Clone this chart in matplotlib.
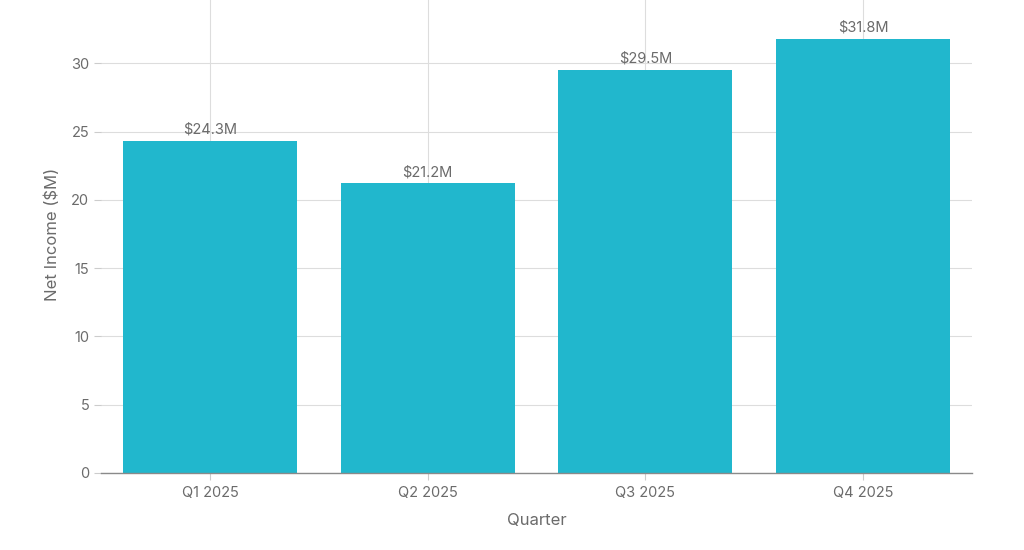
import matplotlib.pyplot as plt
import numpy as np

quarters = ["Q1 2025", "Q2 2025", "Q3 2025", "Q4 2025"]
net_income = [24.3, 21.2, 29.5, 31.8]
bar_labels = ["$24.3M", "$21.2M", "$29.5M", "$31.8M"]
y_ticks = [0, 5, 10, 15, 20, 25, 30, 35]

plt.rcParams['font.family'] = ['Inter', 'DejaVu Sans']
text_color = '#6b6b6b'

fig = plt.figure(figsize=(10.24, 5.5), dpi=100)
ax = fig.add_axes([101 / 1024, 77 / 550, 871 / 1024, 478 / 550])

x = np.arange(len(quarters))
ax.bar(x, net_income, width=0.8, color='#21b7cd', zorder=2)

for xi, val, lab in zip(x, net_income, bar_labels):
    ax.annotate(lab, (xi, val), xytext=(0, 3), textcoords='offset points',
                ha='center', va='bottom', fontsize=10.5, color=text_color, zorder=3)

ax.set_xlim(-0.5, 3.5)
ax.set_ylim(0, 35)
ax.set_yticks(y_ticks)
ax.set_xticks(x)
ax.set_xticklabels(quarters)

ax.grid(True, color='#dddddd', linewidth=0.8, zorder=0)
ax.set_axisbelow(True)
for side in ['top', 'right', 'left']:
    ax.spines[side].set_visible(False)
ax.spines['bottom'].set_color('#8a8a8a')
ax.spines['bottom'].set_linewidth(1)

ax.tick_params(axis='both', colors='#cccccc', labelcolor=text_color, labelsize=10.5, length=5)
ax.tick_params(axis='x', pad=4)

ax.set_xlabel("Quarter", fontsize=12, color=text_color, labelpad=10)
ax.set_ylabel("Net Income ($M)", fontsize=12, color=text_color, labelpad=8)

fig.savefig("out.png", dpi=100)
